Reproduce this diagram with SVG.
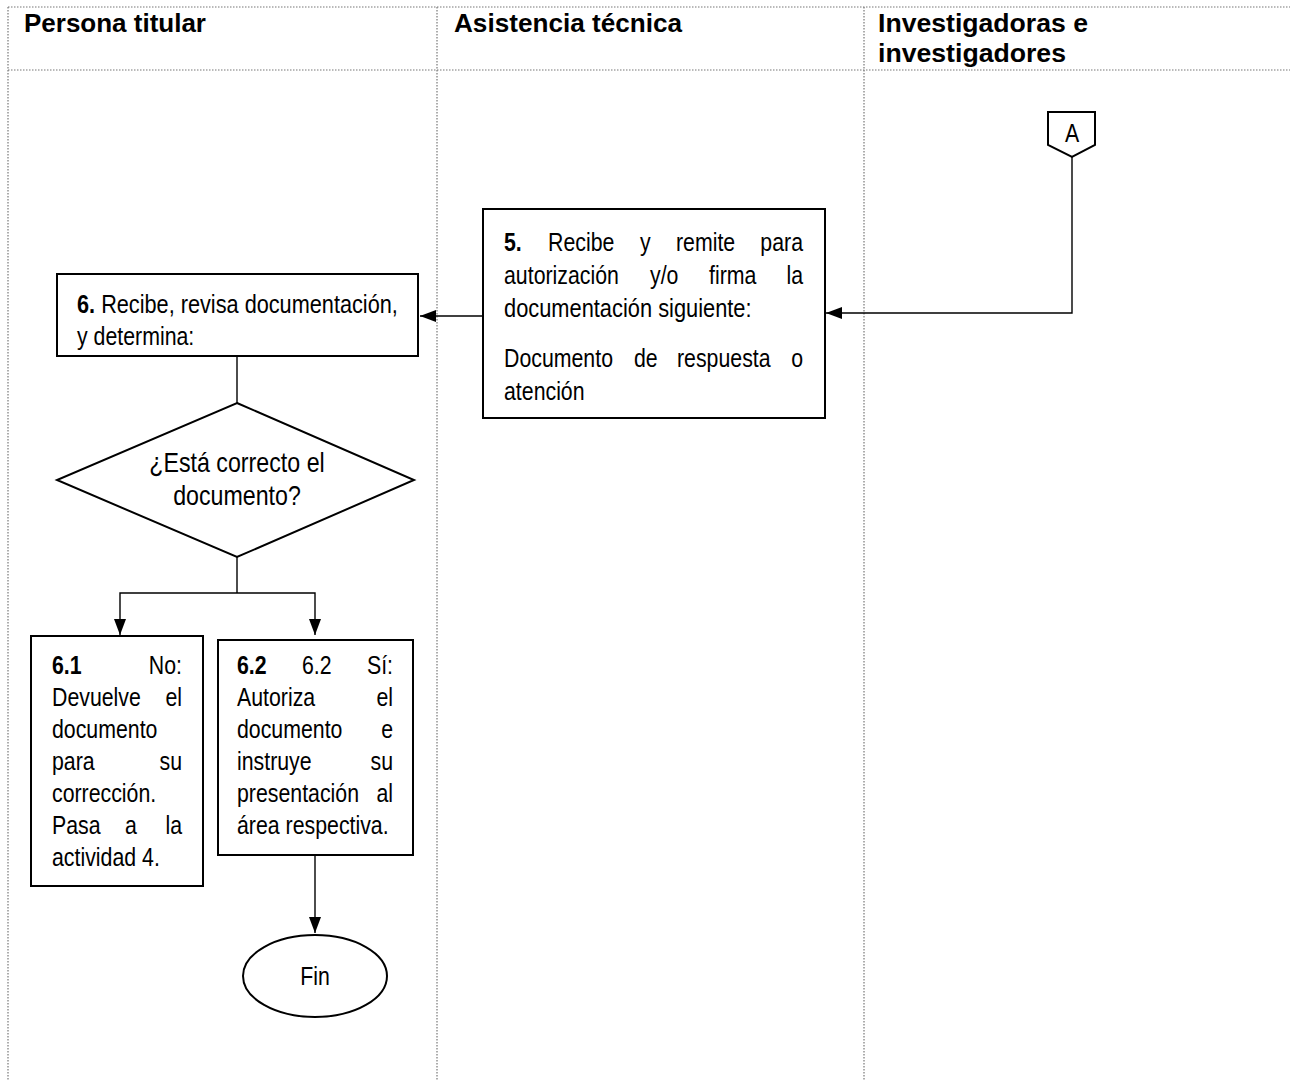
<svg xmlns="http://www.w3.org/2000/svg" width="1290" height="1080" viewBox="0 0 1290 1080">
<style>
.lane{stroke:#777;stroke-width:1.2;stroke-dasharray:1.5 1.5;fill:none}
.box{fill:#fff;stroke:#000;stroke-width:2}
.con{stroke:#000;stroke-width:1.4;fill:none}
.h{font-family:"Liberation Sans",Arial,sans-serif;font-weight:bold;font-size:25px;fill:#000}
.t{font-family:"Liberation Sans Narrow","Liberation Sans",Arial,sans-serif;font-size:26px;fill:#000}
.d{font-size:27px}
.b{font-weight:bold}
.m{text-anchor:middle}
.e{text-anchor:end}
</style>
<defs>
<marker id="arr" markerUnits="userSpaceOnUse" markerWidth="17" markerHeight="13" refX="16" refY="6" orient="auto">
<path d="M0,0 L16,6 L0,12 z" fill="#000"/>
</marker>
</defs>
<g id="lanes">
<line class="lane" x1="8" y1="7" x2="1290" y2="7"/>
<line class="lane" x1="8" y1="70" x2="1290" y2="70"/>
<line class="lane" x1="8" y1="7" x2="8" y2="1080"/>
<line class="lane" x1="437" y1="7" x2="437" y2="1080"/>
<line class="lane" x1="864" y1="7" x2="864" y2="1080"/>
<text class="h" x="24" y="32" textLength="182" lengthAdjust="spacingAndGlyphs">Persona titular</text>
<text class="h" x="454" y="32" textLength="228" lengthAdjust="spacingAndGlyphs">Asistencia técnica</text>
<text class="h" x="878" y="32" textLength="210" lengthAdjust="spacingAndGlyphs">Investigadoras e</text>
<text class="h" x="878" y="62" textLength="188" lengthAdjust="spacingAndGlyphs">investigadores</text>
</g>
<g id="connectors">
<polyline class="con" points="1072,157 1072,313 826,313" marker-end="url(#arr)"/>
<line class="con" x1="483" y1="316" x2="420" y2="316" marker-end="url(#arr)"/>
<line class="con" x1="237" y1="356" x2="237" y2="403"/>
<line class="con" x1="237" y1="557" x2="237" y2="593"/>
<polyline class="con" points="237,593 120,593 120,635" marker-end="url(#arr)"/>
<polyline class="con" points="237,593 315,593 315,635" marker-end="url(#arr)"/>
<line class="con" x1="315" y1="855" x2="315" y2="933" marker-end="url(#arr)"/>
</g>
<g id="nodeA">
<path class="box" d="M1048,112 L1095,112 L1095,145 L1072,157 L1048,145 Z"/>
<text class="t m" transform="translate(1072 142) scale(.82 1)">A</text>
</g>
<g id="node5">
<rect class="box" x="483" y="209" width="342" height="209"/>
<text class="t b" transform="translate(504 251) scale(.82 1)">5.</text>
<text class="t" transform="translate(548 251) scale(.82 1)">Recibe</text>
<text class="t" transform="translate(640 251) scale(.82 1)">y</text>
<text class="t" transform="translate(676 251) scale(.82 1)">remite</text>
<text class="t e" transform="translate(803 251) scale(.82 1)">para</text>
<text class="t" transform="translate(504 284) scale(.82 1)">autorización</text>
<text class="t" transform="translate(650 284) scale(.82 1)">y/o</text>
<text class="t" transform="translate(709 284) scale(.82 1)">firma</text>
<text class="t e" transform="translate(803 284) scale(.82 1)">la</text>
<text class="t" transform="translate(504 317) scale(.84 1)">documentación siguiente:</text>
<text class="t" transform="translate(504 367) scale(.82 1)">Documento</text>
<text class="t" transform="translate(634 367) scale(.82 1)">de</text>
<text class="t" transform="translate(677 367) scale(.82 1)">respuesta</text>
<text class="t e" transform="translate(803 367) scale(.82 1)">o</text>
<text class="t" transform="translate(504 400) scale(.82 1)">atención</text>
</g>
<g id="node6">
<rect class="box" x="57" y="274" width="361" height="82"/>
<text class="t" transform="translate(77 313) scale(.835 1)"><tspan class="b">6.</tspan> Recibe, revisa documentación,</text>
<text class="t" transform="translate(77 345) scale(.82 1)">y determina:</text>
</g>
<g id="decision">
<polygon class="box" points="237,403 414,480 237,557 57,480"/>
<text class="t d m" transform="translate(237 472) scale(.86 1)">¿Está correcto el</text>
<text class="t d m" transform="translate(237 505) scale(.86 1)">documento?</text>
</g>
<g id="node61">
<rect class="box" x="31" y="636" width="172" height="250"/>
<text class="t b" transform="translate(52 674) scale(.82 1)">6.1</text>
<text class="t e" transform="translate(182 674) scale(.82 1)">No:</text>
<text class="t" transform="translate(52 706) scale(.82 1)">Devuelve</text>
<text class="t e" transform="translate(182 706) scale(.82 1)">el</text>
<text class="t" transform="translate(52 738) scale(.82 1)">documento</text>
<text class="t" transform="translate(52 770) scale(.82 1)">para</text>
<text class="t e" transform="translate(182 770) scale(.82 1)">su</text>
<text class="t" transform="translate(52 802) scale(.82 1)">corrección.</text>
<text class="t" transform="translate(52 834) scale(.82 1)">Pasa</text>
<text class="t" transform="translate(125 834) scale(.82 1)">a</text>
<text class="t e" transform="translate(182 834) scale(.82 1)">la</text>
<text class="t" transform="translate(52 866) scale(.82 1)">actividad 4.</text>
</g>
<g id="node62">
<rect class="box" x="218" y="640" width="195" height="215"/>
<text class="t b" transform="translate(237 674) scale(.82 1)">6.2</text>
<text class="t" transform="translate(302 674) scale(.82 1)">6.2</text>
<text class="t e" transform="translate(393 674) scale(.82 1)">Sí:</text>
<text class="t" transform="translate(237 706) scale(.82 1)">Autoriza</text>
<text class="t e" transform="translate(393 706) scale(.82 1)">el</text>
<text class="t" transform="translate(237 738) scale(.82 1)">documento</text>
<text class="t e" transform="translate(393 738) scale(.82 1)">e</text>
<text class="t" transform="translate(237 770) scale(.82 1)">instruye</text>
<text class="t e" transform="translate(393 770) scale(.82 1)">su</text>
<text class="t" transform="translate(237 802) scale(.82 1)">presentación</text>
<text class="t e" transform="translate(393 802) scale(.82 1)">al</text>
<text class="t" transform="translate(237 834) scale(.82 1)">área respectiva.</text>
</g>
<g id="fin">
<ellipse class="box" cx="315" cy="976" rx="72" ry="41"/>
<text class="t m" transform="translate(315 985) scale(.82 1)">Fin</text>
</g>
</svg>
